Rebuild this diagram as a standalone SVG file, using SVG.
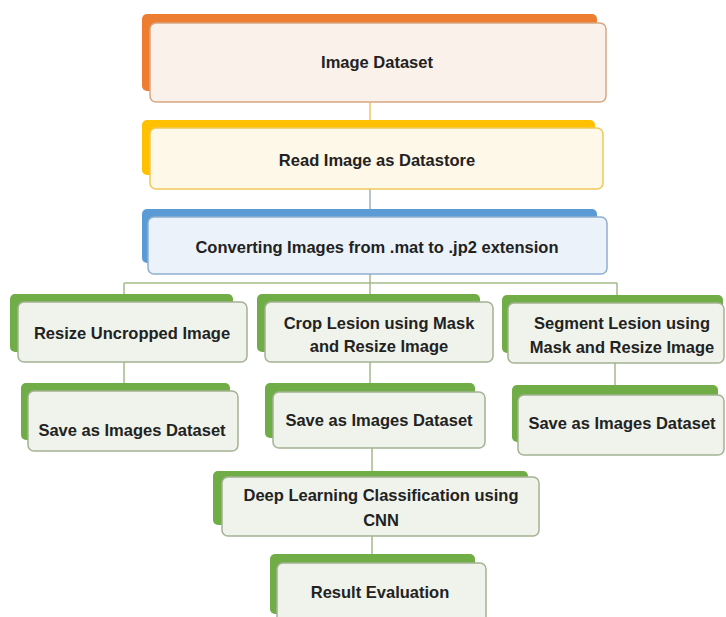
<svg xmlns="http://www.w3.org/2000/svg" width="726" height="617" viewBox="0 0 726 617">
<style>
  .t { font-family: "Liberation Sans", Arial, sans-serif; font-weight: bold; font-size: 16.5px; fill: #222; text-anchor: middle; }
  .bk { stroke: none; }
  .fr { stroke-width: 1.5; }
  .o .bk { fill: #ED7D31; } .o .fr { fill: #FBF1EB; stroke: #D9A683; }
  .y .bk { fill: #FFC000; } .y .fr { fill: #FEF8E9; stroke: #EFC85A; }
  .b .bk { fill: #5B9BD5; } .b .fr { fill: #ECF2F9; stroke: #8FAFCF; }
  .g .bk { fill: #70AD47; } .g .fr { fill: #EFF3EB; stroke: #A3B393; }
  .c line { stroke: #A3BA88; stroke-width: 1.5; fill: none; }
</style>
<rect width="726" height="617" fill="#ffffff"/>
<g class="c" id="connectors">
  <line x1="370" y1="102" x2="370" y2="121" style="stroke:#EFC85A"/>
  <line x1="370" y1="189" x2="370" y2="210" style="stroke:#9AB0C6"/>
  <line x1="370" y1="274" x2="370" y2="283"/>
  <line x1="124" y1="283" x2="617" y2="283"/>
  <line x1="124" y1="283" x2="124" y2="295"/>
  <line x1="370" y1="283" x2="370" y2="295"/>
  <line x1="617" y1="283" x2="617" y2="296"/>
  <line x1="124" y1="362" x2="124" y2="384"/>
  <line x1="370" y1="362" x2="370" y2="384"/>
  <line x1="615" y1="363" x2="615" y2="386"/>
  <line x1="372" y1="448" x2="372" y2="472"/>
  <line x1="372" y1="536" x2="372" y2="555"/>
</g>
<g id="n1" class="o">
  <rect class="bk" x="142" y="14" width="455" height="77" rx="5"/>
  <rect class="fr" x="150" y="23" width="456" height="79" rx="6"/>
  <text class="t" x="377" y="68">Image Dataset</text>
</g>
<g id="n2" class="y">
  <rect class="bk" x="142" y="120" width="453" height="55" rx="5"/>
  <rect class="fr" x="150" y="128" width="453" height="61" rx="6"/>
  <text class="t" x="377" y="166">Read Image as Datastore</text>
</g>
<g id="n3" class="b">
  <rect class="bk" x="142" y="209" width="455" height="54" rx="5"/>
  <rect class="fr" x="148" y="217" width="459" height="57" rx="6"/>
  <text class="t" x="377" y="253">Converting Images from .mat to .jp2 extension</text>
</g>
<g id="n4" class="g">
  <rect class="bk" x="10" y="294" width="223" height="58" rx="5"/>
  <rect class="fr" x="18" y="302" width="229" height="60" rx="6"/>
  <text class="t" x="132" y="339">Resize Uncropped Image</text>
</g>
<g id="n5" class="g">
  <rect class="bk" x="21" y="383" width="209" height="57" rx="5"/>
  <rect class="fr" x="28" y="391" width="210" height="60" rx="6"/>
  <text class="t" x="132" y="436">Save as Images Dataset</text>
</g>
<g id="n6" class="g">
  <rect class="bk" x="257" y="294" width="223" height="58" rx="5"/>
  <rect class="fr" x="265" y="302" width="228" height="60" rx="6"/>
  <text class="t" x="379" y="329">Crop Lesion using Mask</text>
  <text class="t" x="379" y="352">and Resize Image</text>
</g>
<g id="n7" class="g">
  <rect class="bk" x="265" y="383" width="210" height="55" rx="5"/>
  <rect class="fr" x="273" y="392" width="212" height="56" rx="6"/>
  <text class="t" x="379" y="426">Save as Images Dataset</text>
</g>
<g id="n8" class="g">
  <rect class="bk" x="502" y="295" width="221" height="58" rx="5"/>
  <rect class="fr" x="508" y="303" width="216" height="60" rx="6"/>
  <text class="t" x="622" y="329">Segment Lesion using</text>
  <text class="t" x="622" y="353">Mask and Resize Image</text>
</g>
<g id="n9" class="g">
  <rect class="bk" x="512" y="385" width="206" height="57" rx="5"/>
  <rect class="fr" x="518" y="395" width="206" height="60" rx="6"/>
  <text class="t" x="622" y="429">Save as Images Dataset</text>
</g>
<g id="n10" class="g">
  <rect class="bk" x="213" y="471" width="315" height="54" rx="5"/>
  <rect class="fr" x="222" y="477" width="317" height="59" rx="6"/>
  <text class="t" x="381" y="501">Deep Learning Classification using</text>
  <text class="t" x="381" y="526">CNN</text>
</g>
<g id="n11" class="g">
  <rect class="bk" x="270" y="554" width="205" height="60" rx="5"/>
  <rect class="fr" x="277" y="563" width="209" height="62" rx="6"/>
  <text class="t" x="380" y="598">Result Evaluation</text>
</g>
</svg>
